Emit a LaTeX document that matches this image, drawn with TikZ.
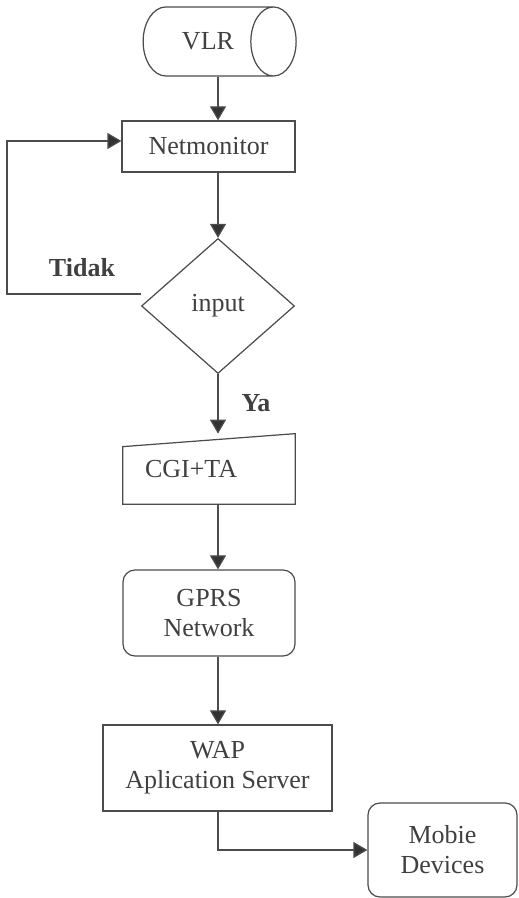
\documentclass[tikz,border=0pt]{standalone}
\usepackage{fontspec}
\setmainfont{Liberation Serif}
\usetikzlibrary{arrows.meta,shapes.geometric}

\begin{document}
\begin{tikzpicture}[
  font=\fontsize{14.8}{17}\selectfont,
  every node/.style={text=black!75},
  box/.style={draw=black!70, line width=0.7pt, align=center, inner sep=0pt},
  flow/.style={draw=black!70, line width=0.7pt,
    -{Triangle[width=0.32cm,length=0.28cm,fill=black!80]}},
  lbl/.style={font=\fontsize{14.8}{17}\selectfont\bfseries}
]
\useasboundingbox (0,0) rectangle (10.360,17.960);

% flowchart nodes
\node[box, cylinder, aspect=2.6, minimum width=1.38cm, minimum height=3.06cm] (vlr) at (4.160,17.130) {VLR};
\node[box, rectangle, minimum width=3.46cm, minimum height=1.02cm] (net) at (4.170,15.030) {Netmonitor};
\node[box, diamond, minimum width=3.06cm, minimum height=2.70cm] (dec) at (4.360,11.840) {input};
\node[rectangle, minimum width=3.44cm, minimum height=1.40cm, text width=2.56cm,
  inner xsep=0.44cm, inner ysep=0pt, align=left] (cgi) at (4.180,8.580) {CGI+TA};
\draw[draw=black!70, line width=0.7pt] (cgi.south west) -- (cgi.south east)
  -- (cgi.north east) -- ([yshift=-0.26cm]cgi.north west) -- cycle;
\node[box, rounded corners=0.24cm, minimum width=3.44cm, minimum height=1.72cm] (gprs) at (4.180,5.700) {GPRS\\Network};
\node[box, minimum width=4.58cm, minimum height=1.72cm] (wap) at (4.350,2.600) {WAP\\Aplication Server};
\node[box, rounded corners=0.24cm, minimum width=2.98cm, minimum height=1.88cm] (mob) at (8.850,0.960) {Mobie\\Devices};

% labels on the branches
\node[lbl] (tidak) at (1.640,12.600) {Tidak};
\node[lbl] (ya) at (5.120,9.900) {Ya};

\coordinate (back) at (0.140,12.080);

% connectors
\draw[flow] (vlr.south -| dec) -- (net.north -| dec);
\draw[flow] (dec.north |- net.south) -- (dec.north);
\draw[flow] ([yshift=0.24cm]dec.west) -| (back) |- ([yshift=0.11cm]net.west);
\draw[flow] (dec.south) -- (dec.south |- cgi.north);
\draw[flow] (cgi.south -| dec) -- (gprs.north -| dec);
\draw[flow] (gprs.south -| dec) -- (wap.north -| dec);
\draw[flow] (wap.south -| dec) |- (mob.west);
\end{tikzpicture}
\end{document}
